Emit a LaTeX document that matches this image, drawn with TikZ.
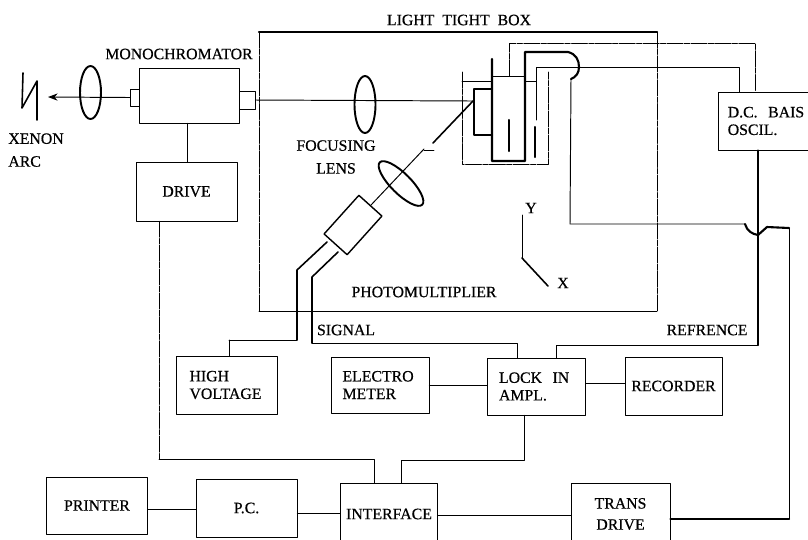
\documentclass[tikz,border=0pt]{standalone}
\usepackage{fontspec}
\setmainfont{Liberation Serif}[FakeBold=0.5]
\newfontfamily\platefont{Liberation Serif}[FakeBold=0.5]
\usetikzlibrary{arrows.meta,shapes.geometric}
\tikzset{
  unitbox/.style={draw,inner sep=0pt,align=center},
  lens/.style={draw,ellipse,inner sep=0pt,line width=1.1pt},
  wire/.style={line width=0.55pt},
  heavy/.style={line width=1.2pt},
  broken/.style={line width=0.55pt,dash pattern=on 9pt off 0.8pt on 3pt off 0.8pt},
  caption/.style={inner sep=0pt}
}
\begin{document}
\begin{tikzpicture}[x=0.02cm,y=-0.02cm,>=Stealth,line cap=round,line join=round,
  font=\platefont\fontsize{9}{10}\selectfont]
  \useasboundingbox (0,0) rectangle (808,539);

  % units
  \node[unitbox,minimum width=2cm,minimum height=1.1cm] (mono) at (189,95.5) {};
  \node[unitbox,minimum width=0.18cm,minimum height=0.34cm] (stubL) at (134.5,97.5) {};
  \node[unitbox,minimum width=0.32cm,minimum height=0.36cm] (stubR) at (247,100) {};
  \node[unitbox,minimum width=2.02cm,minimum height=1.18cm] (drive) at (186.5,191.5) {DRIVE};
  \node[unitbox,minimum width=1.94cm,minimum height=1.16cm,text width=1.55cm,align=left] (dc) at (766.5,121) {D.C.~~BAIS\\OSCIL.};
  \node[unitbox,minimum width=2.02cm,minimum height=1.16cm,text width=1.5cm,align=left] (hv) at (227,385) {HIGH\\VOLTAGE};
  \node[unitbox,minimum width=1.96cm,minimum height=1.12cm,text width=1.5cm,align=left] (electro) at (380,385) {ELECTRO\\METER};
  \node[unitbox,minimum width=1.95cm,minimum height=1.14cm,text width=1.5cm,align=left] (lock) at (536.5,386.5) {LOCK~~IN\\AMPL.};
  \node[unitbox,minimum width=1.94cm,minimum height=1.16cm] (rec) at (673.5,386) {RECORDER};
  \node[unitbox,minimum width=2.02cm,minimum height=1.14cm] (printer) at (97,505.5) {PRINTER};
  \node[unitbox,minimum width=2.02cm,minimum height=1.16cm] (pc) at (246.5,508) {P.C.};
  \node[unitbox,minimum width=1.94cm,minimum height=1.24cm] (iface) at (389,514) {INTERFACE};
  \node[unitbox,minimum width=1.98cm,minimum height=1.24cm] (trans) at (620.5,514) {TRANS\\[2pt]DRIVE};

  % lenses and tube
  \node[lens,minimum width=0.42cm,minimum height=1.06cm] (lensA) at (90.5,92.5) {};
  \node[lens,minimum width=0.42cm,minimum height=1.14cm] (lensB) at (365,104.5) {};
  \node[lens,minimum width=1.2cm,minimum height=0.4cm,rotate=-45] (lensC) at (401,183.5) {};
  \node[draw,line width=0.8pt,inner sep=0pt,minimum width=1.04cm,minimum height=0.62cm,rotate=48] (tube) at (353,225) {};

  % free ends
  \coordinate (tip) at (48,97);
  \coordinate (bracket) at (473,101);
  \coordinate (slitA) at (433,143);
  \coordinate (slitB) at (424,149);
  \coordinate (fork) at (758,235);
  \coordinate (wireA) at (327,242);
  \coordinate (wireB) at (338,252);

  % light tight box
  \draw[heavy] (259,32) -- (657,32);
  \draw[broken] (259,32) -- (259,311);
  \draw[broken] (657,32) -- (657,311);
  \draw[wire] (259,311) -- (657,311);

  % arc
  \draw[line width=0.9pt] (23,73) -- (22,108) -- (37,81) -- (37,120);

  % beam
  \draw[wire,->] (stubL.west) -- (tip);
  \draw[wire] (stubR.east) -- (bracket);
  \draw[line width=0.9pt] (bracket) -- (slitA);
  \draw[wire] (slitB) -- (tube.east);
  \draw[wire] (424,150) -- (434,150);
  \draw[wire] (mono.south -| 187,123) -- (drive.north -| 187,162);

  % cell
  \draw[broken] (462,72) -- (462,164) -- (548,164) -- (548,72);
  \draw[wire] (462,81) -- (492,81);
  \draw[heavy] (492,59) -- (492,161) -- (525,161) -- (525,52) -- (568,52)
    .. controls (576,54) and (579,60) .. (579,67)
    .. controls (579,73) and (576,77) .. (571,79);
  \draw[heavy] (492,89) -- (474,89) -- (474,135) -- (492,135);
  \draw[wire] (492,76) -- (525,76);
  \draw[wire] (525,81) -- (536,81);
  \draw[heavy] (509,120) -- (509,151);
  \draw[heavy] (535,127) -- (535,157);
  \draw[broken] (509,76) -- (509,43) -- (755,43) -- (dc.north -| 755,92);
  \draw[wire] (536,120) -- (536,67) -- (739,67) -- (dc.north -| 739,92);
  \draw[wire] (571,79) -- (570,224) -- (745,224);
  \draw[heavy] (745,224) .. controls (747,231) and (752,234) .. (fork);

  % axes
  \draw[wire] (522,215) -- (522,258);
  \draw[line width=0.9pt] (522,258) -- (548,286);

  % outputs
  \draw[heavy] (dc.south -| 758,150) -- (fork);
  \draw[heavy] (fork) -- (758,345);
  \draw[wire] (758,345) -- (556,345) -- (lock.north -| 556,358);
  \draw[heavy] (fork) -- (767,227) -- (789,228);
  \draw[wire] (789,228) -- (789,519);
  \draw[heavy] (trans.east |- 0,519) -- (789,519);

  % tube wires
  \draw[line width=0.9pt] (wireA) -- (297,270) -- (297,340);
  \draw[wire] (297,340) -- (229,340);
  \draw[broken] (229,340) -- (hv.north -| 229,356);
  \draw[line width=0.9pt] (wireB) -- (312,277) -- (312,343);
  \draw[wire] (312,343) -- (517,343) -- (lock.north -| 517,358);

  % links
  \draw[wire] (electro.east |- 0,385) -- (lock.west |- 0,385);
  \draw[wire] (lock.east |- 0,383) -- (rec.west |- 0,383);
  \draw[wire] (lock.south -| 524,415) -- (524,460) -- (401,460) -- (iface.north -| 401,483);
  \draw[broken] (drive.south -| 159,221) -- (159,459);
  \draw[wire] (159,459) -- (374,459) -- (iface.north -| 374,483);
  \draw[wire] (printer.east |- 0,509) -- (pc.west |- 0,509);
  \draw[wire] (pc.east |- 0,513) -- (iface.west |- 0,513);
  \draw[wire] (iface.east |- 0,515) -- (trans.west |- 0,515);

  % labels
  \node[caption] (boxlabel) at (459,20) {LIGHT~~TIGHT~~BOX};
  \node[caption] (monolabel) at (179,54) {MONOCHROMATOR};
  \node[caption,align=left,anchor=north west] (arclabel) at (8,133) {XENON\\[3pt]ARC};
  \node[caption,align=center] (focuslabel) at (336,157) {FOCUSING\\[3pt]LENS};
  \node[caption] (ylabel) at (531,208) {Y};
  \node[caption] (xlabel) at (563,283) {X};
  \node[caption] (pmlabel) at (424,292) {PHOTOMULTIPLIER};
  \node[caption] (siglabel) at (346,330) {SIGNAL};
  \node[caption] (reflabel) at (707,330) {REFRENCE};
\end{tikzpicture}
\end{document}
